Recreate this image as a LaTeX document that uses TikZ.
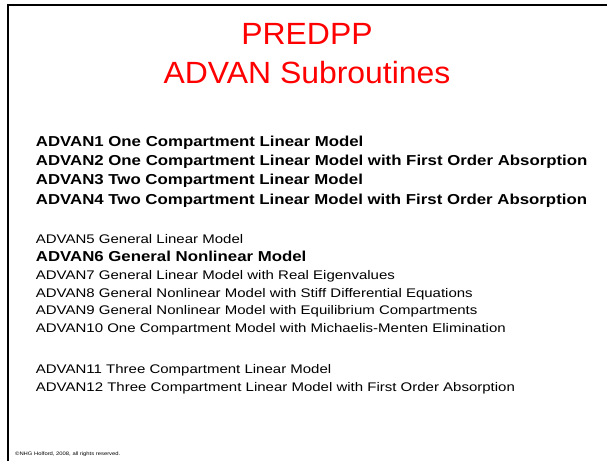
\documentclass[tikz,border=0pt]{standalone}
\usepackage{fontspec}
\setmainfont{Liberation Sans}
\newfontfamily\titlebody[FakeStretch=1.04]{Liberation Sans}
\newfontfamily\boldbody[FakeStretch=1.167]{Liberation Sans}
\newfontfamily\plainbody[FakeStretch=1.2]{Liberation Sans}
\newfontfamily\footbody[FakeStretch=1.17]{Liberation Sans}
\definecolor{titlered}{RGB}{255,0,0}
\tikzset{
  titletext/.style={anchor=base, text=titlered, font=\titlebody\fontsize{30.7}{30.7}\selectfont, inner sep=0pt},
  bigitem/.style={anchor=base west, font=\boldbody\fontsize{14.4}{14.4}\selectfont\bfseries, inner sep=0pt},
  smallitem/.style={anchor=base west, font=\plainbody\fontsize{12.5}{12.5}\selectfont, inner sep=0pt}
}
\begin{document}
\begin{tikzpicture}[x=1pt, y=-1pt]
  \useasboundingbox (0,0) rectangle (607,461);
  % frame, left and top only
  \draw[line width=2pt] (8.3,461) -- (8.3,5) -- (607,5);
  % title
  \node[titletext] (T1) at (307,44.3) {PREDPP};
  \node[titletext] (T2) at (307,83.3) {ADVAN Subroutines};
  % first group
  \node[bigitem] (A1) at (35.7,146) {ADVAN1 One Compartment Linear Model};
  \node[bigitem] (A2) at (35.7,165.4) {ADVAN2 One Compartment Linear Model with First Order Absorption};
  \node[bigitem] (A3) at (35.7,184.8) {ADVAN3 Two Compartment Linear Model};
  \node[bigitem] (A4) at (35.7,204.2) {ADVAN4 Two Compartment Linear Model with First Order Absorption};
  % second group
  \node[smallitem] (A5) at (35.7,243.2) {ADVAN5 General Linear Model};
  \node[bigitem] (A6) at (35.7,261) {ADVAN6 General Nonlinear Model};
  \node[smallitem] (A7) at (35.7,279.6) {ADVAN7 General Linear Model with Real Eigenvalues};
  \node[smallitem] (A8) at (35.7,297.2) {ADVAN8 General Nonlinear Model with Stiff Differential Equations};
  \node[smallitem] (A9) at (35.7,314.8) {ADVAN9 General Nonlinear Model with Equilibrium Compartments};
  \node[smallitem] (A10) at (35.7,332.4) {ADVAN10 One Compartment Model with Michaelis-Menten Elimination};
  % third group
  \node[smallitem] (A11) at (35.7,373.6) {ADVAN11 Three Compartment Linear Model};
  \node[smallitem] (A12) at (35.7,391.2) {ADVAN12 Three Compartment Linear Model with First Order Absorption};
  % footer
  \node[anchor=base west, inner sep=0pt, font=\footbody\fontsize{5}{5}\selectfont] (C) at (15,455) {\textcopyright NHG Holford, 2008, all rights reserved.};
\end{tikzpicture}
\end{document}
